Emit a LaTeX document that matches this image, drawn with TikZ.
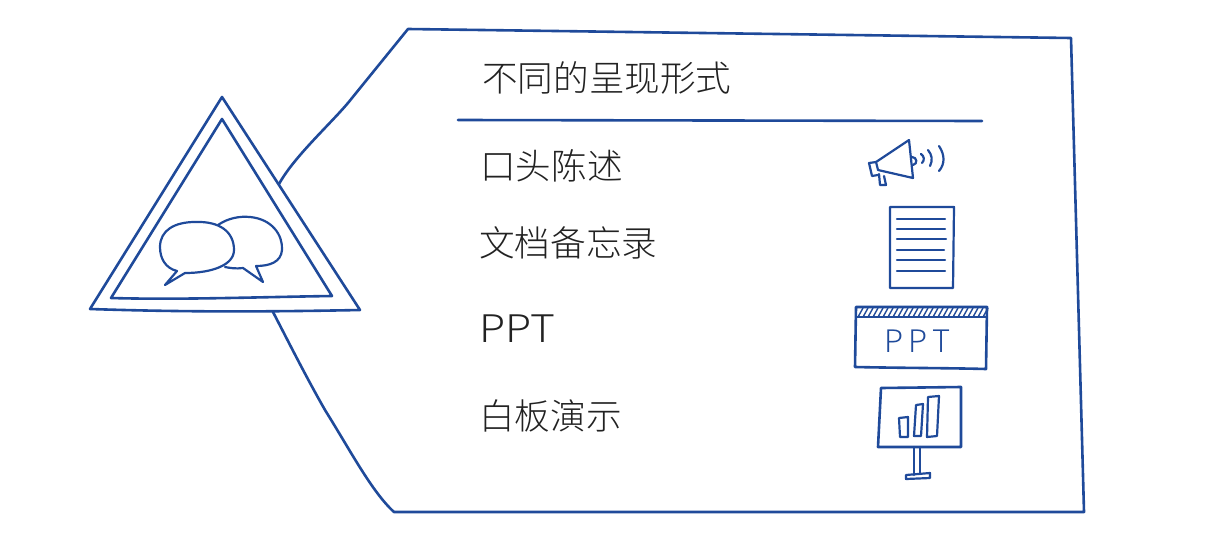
\documentclass[tikz,border=0pt]{standalone}
\usepackage{fontspec}
\newfontfamily\cjk{Noto Sans CJK SC Light}
\newfontfamily\cjkwide[FakeStretch=1.12]{Noto Sans CJK SC Light}
\definecolor{ink}{HTML}{1F4A9A}
\definecolor{txt}{HTML}{222222}
\tikzset{
  sk/.style={draw=ink,line width=2.6pt,line cap=round,line join=round},
  thin sk/.style={draw=ink,line width=2.2pt,line cap=round,line join=round},
  label/.style={anchor=west,inner sep=0pt,text=txt,font=\cjk\fontsize{35.6}{36}\selectfont},
}
\begin{document}
\begin{tikzpicture}[x=1pt,y=-1pt]
\useasboundingbox (0,0) rectangle (1217,541);
% triangles
\draw[sk] (222,97) -- (360,310) .. controls (260,312) and (180,312) .. (90,309) -- cycle;
\draw[sk] (222,119) -- (332,296) .. controls (260,297) and (180,300) .. (111,298) -- cycle;
% bubbles
\draw[thin sk] (218,225) .. controls (228,218) and (240,216) .. (250,217)
  .. controls (272,219) and (283,235) .. (282,250)
  .. controls (281,262) and (270,266) .. (256,266) -- (263,282) -- (243,268)
  .. controls (236,269) and (230,268) .. (225,267);
\draw[thin sk] (160,247) .. controls (160,230) and (175,222) .. (195,222)
  .. controls (220,221) and (234,232) .. (234,250)
  .. controls (234,265) and (212,273) .. (185,273) -- (165,285) -- (177,271)
  .. controls (165,268) and (160,258) .. (160,247) -- cycle;
% callout
\draw[sk] (279,184) .. controls (295,155) and (335,120) .. (352,98)
  -- (408,29) -- (1071,38) -- (1084,512) -- (394,512)
  .. controls (372,492) and (350,450) .. (325,410)
  .. controls (305,375) and (285,335) .. (273,312);
\node[label] (title) at (482,78) {不同的呈现形式};
\draw[sk] (458,120) -- (982,121);
\node[label] (t1) at (480,166) {口头陈述};
\node[label] (t2) at (479,243) {文档备忘录};
\node[label] (t3) at (479,329) {\cjkwide\fontsize{38}{38}\selectfont PPT};
\node[label] (t4) at (479,416) {白板演示};
% megaphone
\draw[thin sk] (876,162) -- (909,140) -- (913,178) -- (878,170) -- cycle;
\draw[thin sk] (876,162) -- (869,163) -- (872,176) -- (878,175);
\draw[thin sk] (879,174) -- (880,185) -- (886,185) -- (884,176);
\draw[thin sk] (912,157) .. controls (917,157) and (918,164) .. (913,165);
\draw[thin sk] (921,154) .. controls (924,156) and (925,160) .. (922,163);
\draw[thin sk] (928,150) .. controls (932,155) and (933,160) .. (930,166);
\draw[thin sk] (939,146) .. controls (945,155) and (945,164) .. (939,171);
% document
\draw[thin sk] (890,207) -- (954,207) -- (953,288) -- (890,288) -- cycle;
\foreach \y/\xa/\xb in {219/897/945,229/897/945,239/897/946,250/897/944,260/897/945,271/897/945}
  \draw[thin sk] (\xa,\y) -- (\xb,\y);
% ppt slide
\draw[sk] (856,307) -- (987,307) -- (986,369) .. controls (950,368) and (900,368) .. (855,367) -- cycle;
\draw[thin sk] (856,317) -- (987,317);
\foreach \x in {858,863,...,983}
  \draw[ink,line width=1.4pt] (\x,317) -- (\x+5,308);
\node[inner sep=0pt,text=ink,font=\cjk\fontsize{31}{31}\selectfont] (pptlogo) at (918,341) {P\hspace{5pt}P\hspace{5pt}T};
% board
\draw[sk] (881,388) -- (961,387) -- (961,447) -- (878,447) -- cycle;
\draw[thin sk] (899,418) -- (908,417) -- (908,437) -- (900,437) -- cycle;
\draw[thin sk] (916,405) -- (923,404) -- (921,436) -- (914,436) -- cycle;
\draw[thin sk] (928,397) -- (939,396) -- (937,436) -- (927,437) -- cycle;
\draw[thin sk] (914,447) -- (914,475);
\draw[thin sk] (920,447) -- (920,474);
\draw[thin sk] (906,475) -- (930,473) -- (930,478) -- (906,479) -- cycle;
\end{tikzpicture}
\end{document}
